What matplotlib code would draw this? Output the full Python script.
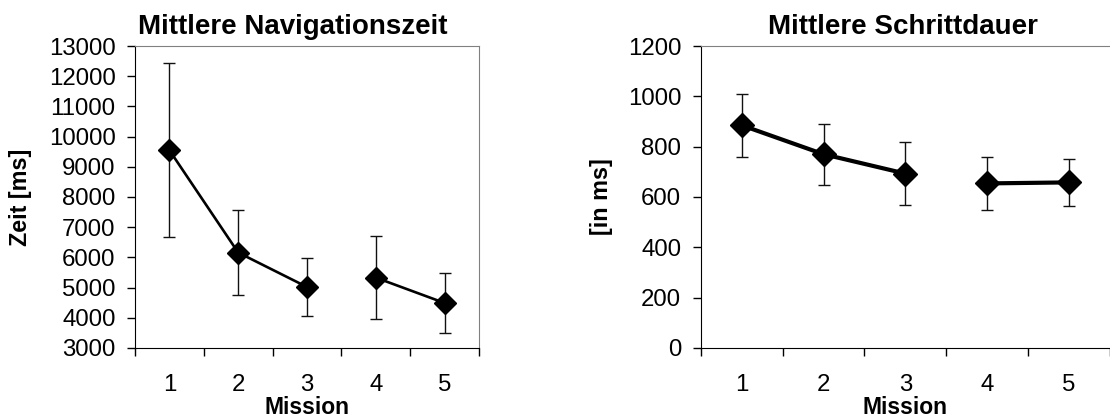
import matplotlib
matplotlib.use("Agg")
import matplotlib.pyplot as plt
import numpy as np
from matplotlib.ticker import FixedLocator, NullFormatter, FixedFormatter

plt.rcParams['font.family'] = ['Liberation Sans', 'DejaVu Sans']

missions = [1, 2, 3, 4, 5]
mission_labels = ["1", "2", "3", "4", "5"]

nav_mean = [9550, 6160, 5020, 5330, 4490]
nav_err = [2890, 1400, 960, 1380, 990]

step_mean = [885, 770, 693, 654, 658]
step_err = [125, 122, 125, 105, 93]

# groups of connected points (line broken between mission 3 and 4)
groups = [(0, 3), (3, 5)]

fig = plt.figure(figsize=(11.10, 4.19), dpi=100)

def style_axes(ax, ylim, yticks, ylabel, title, title_x):
    ax.set_xlim(0.5, 5.5)
    ax.set_ylim(*ylim)
    ax.set_yticks(yticks)
    ax.tick_params(axis='y', direction='out', length=6, width=1, labelsize=17.3, pad=8)
    ax.xaxis.set_major_locator(FixedLocator(np.arange(0.5, 6.0, 1.0)))
    ax.xaxis.set_major_formatter(NullFormatter())
    ax.xaxis.set_minor_locator(FixedLocator(missions))
    ax.xaxis.set_minor_formatter(FixedFormatter(mission_labels))
    ax.tick_params(axis='x', which='major', direction='out', length=6, width=1)
    ax.tick_params(axis='x', which='minor', length=0, labelsize=17.3, pad=19)
    ax.spines['left'].set_color('black')
    ax.spines['bottom'].set_color('black')
    ax.spines['top'].set_color('#808080')
    ax.spines['right'].set_color('#808080')
    ax.set_xlabel("Mission", fontsize=16.5, fontweight='bold')
    ax.xaxis.set_label_coords(0.5, -0.158)
    ax.set_ylabel(ylabel, fontsize=16.8, fontweight='bold')
    ax.set_title(title, fontsize=20, fontweight='bold', pad=9, x=title_x)

def draw(ax, mean, err, lw, ms):
    ax.errorbar(missions, mean, yerr=err, fmt='none', ecolor='#111111',
                elinewidth=1, capsize=4, capthick=1, zorder=2)
    for a, b in groups:
        ax.plot(missions[a:b], mean[a:b], color='black', lw=lw, zorder=3)
    ax.plot(missions, mean, linestyle='none', marker='D', ms=ms,
            color='black', zorder=4)

ax1 = fig.add_axes([0.1216, 0.1695, 0.3099, 0.7207])
draw(ax1, nav_mean, nav_err, 1.9, 11.5)
style_axes(ax1, (3000, 13000), np.arange(3000, 13001, 1000), "Zeit [ms]",
           "Mittlere Navigationszeit", 0.46)
ax1.yaxis.set_label_coords(-0.30, 0.5)

ax2 = fig.add_axes([0.6313, 0.1695, 0.3687, 0.7207])
draw(ax2, step_mean, step_err, 3.0, 12)
style_axes(ax2, (0, 1200), np.arange(0, 1201, 200), "[in ms]",
           "Mittlere Schrittdauer", 0.495)
ax2.spines['right'].set_visible(False)
ax2.yaxis.set_label_coords(-0.215, 0.5)

fig.savefig("out.png", dpi=100)
